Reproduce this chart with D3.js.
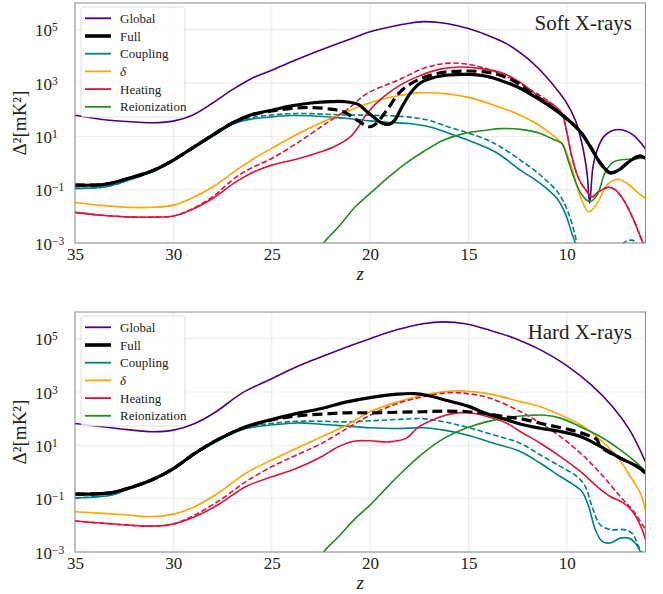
<!DOCTYPE html>
<html>
<head>
<meta charset="utf-8">
<script src="https://cdnjs.cloudflare.com/ajax/libs/d3/7.8.5/d3.min.js"></script>
<style>
body { margin: 0; background: #fff; }
text { font-family: "Liberation Serif", "DejaVu Serif", serif; fill: #222; }
</style>
</head>
<body>
<div id="container"></div>
<script>
// each series: [z, log10(Delta^2 / mK^2)]

// ---- soft X-rays ----
var softGlobal = [[35,1.79],[33.5,1.62],[32,1.54],[31,1.51],[30,1.57],[29,1.8],[28,2.25],[27,2.75],[26,3.18],[25,3.48],[24,3.8],[23,4.1],[22,4.38],[21,4.65],[20,4.92],[19,5.1],[18,5.24],[17.3,5.3],[16.5,5.27],[15.5,5.14],[15,5.04],[14,4.78],[13,4.45],[12,3.92],[11,3.2],[10.5,2.75],[10.05,2.3],[9.57,1.61],[9.23,0.73],[8.97,-0.39],[8.84,-1.51],[8.67,-0.14],[8.46,0.48],[8.13,0.98],[7.62,1.23],[7.11,1.23],[6.6,1.04],[6,0.53]]
var softFull = [[35,-0.83],[33.5,-0.8],[32.3,-0.58],[31,-0.27],[30,0.11],[29,0.58],[28,1.05],[27,1.5],[26,1.82],[25,1.98],[24,2.14],[23,2.25],[22,2.3],[21.3,2.3],[20.6,2.2],[20.2,1.95],[19.7,1.65],[19.4,1.5],[19.06,1.45],[18.75,1.6],[18.47,1.98],[17.96,2.61],[17.45,3.0],[16.8,3.2],[16,3.3],[15,3.32],[14,3.24],[13.38,3.1],[12.5,2.85],[11.35,2.36],[10.9,2.15],[10,1.66],[9.31,1.17],[8.8,0.61],[8.3,0.0],[7.79,-0.37],[7.37,-0.27],[6.94,-0.01],[6.43,0.23],[6.2,0.25],[6,0.17]]
var softFullDash = [[35,-0.83],[33.5,-0.8],[32.3,-0.58],[31,-0.27],[30,0.11],[29,0.58],[28,1.05],[27,1.5],[26,1.8],[25,1.95],[24,2.05],[23,2.08],[22,2.02],[21.35,1.92],[20.67,1.61],[20.2,1.4],[20.0,1.36],[19.73,1.45],[19.15,1.98],[18.47,2.67],[17.62,3.1],[16.43,3.38],[15.08,3.45],[14,3.4],[13.38,3.29],[12.5,3.0],[11.95,2.7],[11.35,2.4],[10.9,2.17],[10,1.66],[9.31,1.17],[8.8,0.61],[8.3,0.0],[7.79,-0.37],[7.37,-0.27],[6.94,-0.01],[6.43,0.23],[6.2,0.25],[6,0.17]]
var softCoupling = [[35,-0.95],[33.5,-0.9],[32.3,-0.65],[31,-0.3],[30,0.08],[29,0.55],[28,1.0],[27,1.45],[26,1.65],[25,1.73],[24,1.78],[23,1.77],[22,1.72],[21,1.66],[20,1.58],[19,1.52],[18,1.48],[17,1.36],[16,1.12],[15,0.85],[14,0.55],[13.38,0.3],[12.36,-0.27],[11.35,-0.76],[10.5,-1.33],[10.08,-1.89],[9.74,-2.64],[9.57,-3],[9.4,-3.5]]
var softCouplingDash = [[35,-0.95],[33.5,-0.9],[32.3,-0.65],[31,-0.3],[30,0.08],[29,0.55],[28,1.0],[27,1.45],[26,1.7],[25,1.8],[24,1.85],[23,1.85],[22,1.82],[21,1.8],[20,1.79],[19,1.77],[18,1.72],[17,1.6],[16,1.35],[15,1.12],[14,0.85],[13.38,0.61],[12.36,0.11],[11.35,-0.45],[10.42,-1.14],[9.91,-1.89],[9.48,-3],[9.3,-3.5],[7.5,-3.5],[7.2,-3.05],[6.85,-2.9],[6.55,-2.93],[6.3,-3.2],[6,-3.5]]
var softDelta = [[35,-1.48],[33.5,-1.6],[32,-1.67],[31,-1.66],[30,-1.58],[29.1,-1.33],[28,-0.9],[26.8,-0.27],[25.9,0.17],[25,0.55],[23.8,1.04],[22.5,1.51],[21.2,1.92],[20,2.26],[18.6,2.52],[17.3,2.64],[16.2,2.6],[15,2.46],[13.7,2.17],[12.4,1.8],[11.6,1.5],[10.84,1.11],[10.25,0.73],[9.82,-0.01],[9.31,-1.27],[8.89,-1.83],[8.46,-1.51],[7.96,-0.83],[7.45,-0.61],[6.94,-0.76],[6.43,-1.08],[6,-1.33]]
var softHeating = [[35,-1.85],[33.5,-1.97],[32,-2.03],[31,-2.03],[30,-1.99],[29.1,-1.76],[28,-1.33],[26.8,-0.7],[25.9,-0.33],[25,-0.08],[23.6,0.17],[22.5,0.42],[21.86,0.6],[21.0,0.98],[20.6,1.35],[20.16,1.86],[19.32,2.48],[18.47,2.92],[17.62,3.23],[16.43,3.52],[15.5,3.6],[14.5,3.55],[13.38,3.4],[12.4,3.04],[11.35,2.45],[10.67,2.17],[10.25,1.86],[9.99,1.11],[9.74,0.23],[9.4,-0.58],[8.97,-1.08],[8.72,-1.27],[8.39,-1.08],[7.87,-0.91],[7.53,-1.01],[7.11,-1.39],[6.6,-2.14],[6.26,-2.76],[6,-3.2]]
var softHeatingDash = [[35,-1.85],[33.5,-1.97],[32,-2.03],[31,-2.03],[30,-1.99],[29.1,-1.74],[28,-1.26],[26.8,-0.52],[25.9,-0.14],[25,0.17],[23.6,0.8],[22.5,1.35],[21.86,1.67],[21.2,1.98],[20.16,2.6],[18.6,3.1],[17.3,3.54],[16.25,3.73],[15.2,3.72],[14.1,3.54],[13,3.23],[11.95,2.79],[10.88,2.29],[10.5,2.0],[10.25,1.86],[9.99,1.11],[9.74,0.23],[9.4,-0.58],[8.97,-1.08],[8.72,-1.27],[8.39,-1.08],[7.87,-0.91],[7.53,-1.01],[7.11,-1.39],[6.6,-2.14],[6.26,-2.76],[6,-3.2]]
var softReion = [[22.6,-3.4],[22.36,-3],[21.6,-2.39],[20.75,-1.64],[20,-1.14],[19.05,-0.52],[18.2,-0.02],[17.3,0.42],[16.25,0.86],[15.2,1.11],[14.1,1.23],[13.38,1.29],[12.36,1.26],[11.35,1.11],[10.67,0.88],[10.25,0.73],[9.99,0.23],[9.65,-0.52],[9.23,-1.2],[8.84,-1.45],[8.46,-1.2],[8.04,-0.33],[7.62,0.04],[7.11,0.13],[6.6,0.15],[6,0.2]]

// ---- hard X-rays ----
var hardGlobal = [[35,1.82],[32.34,1.59],[31.05,1.51],[30,1.57],[28.91,1.82],[27.83,2.26],[26.55,2.94],[25,3.5],[23.76,3.94],[22.47,4.32],[21.18,4.69],[20,5.0],[18.6,5.34],[17.32,5.56],[16.24,5.63],[15.17,5.56],[13.88,5.31],[12.6,5.0],[11.31,4.57],[10.02,4.0],[8.73,3.25],[7.66,2.44],[6.8,1.57],[6,0.38]]
var hardFull = [[35,-0.83],[33.2,-0.78],[32.34,-0.62],[31.05,-0.28],[30,0.13],[28.91,0.7],[27.62,1.26],[26.33,1.69],[25,1.97],[23.76,2.19],[22.47,2.38],[21.18,2.63],[20,2.79],[18.6,2.92],[17.75,2.94],[16.89,2.84],[16.03,2.67],[15.02,2.47],[14.1,2.19],[13.03,1.95],[12.37,1.8],[11.35,1.64],[10.33,1.52],[9.31,1.33],[8.3,0.96],[7.28,0.52],[6.43,0.21],[6,-0.04]]
var hardFullDash = [[35,-0.83],[33.2,-0.78],[32.34,-0.62],[31.05,-0.28],[30,0.13],[28.91,0.7],[27.62,1.26],[26.33,1.69],[25,1.95],[23.76,2.1],[22.47,2.17],[21.18,2.22],[20,2.22],[18.6,2.24],[17.32,2.26],[16.24,2.28],[15.02,2.26],[14.1,2.19],[13.03,2.06],[12.37,2.0],[11.0,1.77],[9.82,1.58],[8.97,1.39],[8.47,1.21],[8.3,0.96],[7.28,0.52],[6.43,0.21],[6,-0.04]]
var hardCoupling = [[35,-0.97],[33.2,-0.87],[32.34,-0.66],[31.05,-0.3],[30,0.1],[28.91,0.67],[27.62,1.22],[26.33,1.63],[25,1.76],[23.76,1.84],[22.47,1.79],[21.18,1.72],[20,1.66],[18.6,1.63],[17.32,1.66],[16.24,1.57],[15.02,1.38],[13.67,1.07],[12.37,0.77],[11.35,0.33],[10.33,-0.17],[9.65,-0.48],[9.23,-0.73],[8.89,-1.29],[8.55,-2.16],[8.21,-2.6],[7.79,-2.66],[7.28,-2.48],[6.86,-2.48],[6.52,-2.66],[6.26,-3],[6.1,-3.5]]
var hardCouplingDash = [[35,-0.97],[33.2,-0.87],[32.34,-0.66],[31.05,-0.3],[30,0.1],[28.91,0.67],[27.62,1.22],[26.33,1.66],[25,1.82],[23.76,1.9],[22.47,1.9],[21.18,1.88],[20,1.92],[18.6,1.97],[17.32,2.0],[16.24,1.88],[15.02,1.67],[13.67,1.38],[12.37,1.08],[11.35,0.64],[10.33,0.21],[9.48,-0.17],[9.06,-0.54],[8.72,-1.29],[8.3,-1.98],[7.79,-2.16],[7.11,-2.16],[6.69,-2.29],[6.35,-2.79],[6.2,-3],[6.05,-3.5]]
var hardDelta = [[35,-1.49],[32.34,-1.61],[31.2,-1.68],[30,-1.58],[28.91,-1.3],[27.62,-0.74],[26.33,-0.05],[25,0.45],[23.76,0.88],[22.47,1.32],[21.18,1.76],[20,2.26],[18.6,2.63],[17.32,2.88],[16.03,3.03],[15.02,3.03],[13.88,2.92],[12.37,2.64],[11.35,2.45],[10.33,2.14],[9.31,1.77],[8.3,1.21],[7.45,0.58],[6.77,-0.17],[6.26,-0.79],[6,-1.42]]
var hardHeating = [[35,-1.84],[32.34,-1.99],[31.05,-2.03],[30,-1.95],[28.91,-1.68],[27.62,-1.18],[26.33,-0.55],[25,-0.18],[23.76,0.13],[22.47,0.57],[21.61,0.95],[20.75,1.16],[20,1.17],[19.03,1.13],[18.18,1.26],[17.53,1.69],[16.67,2.0],[15.82,2.19],[15.02,2.22],[14.1,2.09],[13.03,1.82],[12.37,1.52],[11.35,1.08],[10.33,0.58],[9.31,0.02],[8.47,-0.54],[7.79,-0.92],[7.11,-1.17],[6.6,-1.54],[6.17,-2.16],[6,-2.54]]
var hardHeatingDash = [[35,-1.84],[32.34,-1.99],[31.05,-2.03],[30,-1.95],[28.91,-1.61],[27.62,-1.05],[26.33,-0.37],[25,0.2],[23.76,0.63],[22.47,1.07],[21.18,1.63],[20,2.13],[18.6,2.57],[17.32,2.82],[16.03,2.97],[15.02,2.94],[13.88,2.76],[12.37,2.27],[11.35,1.83],[10.33,1.33],[9.31,0.71],[8.3,-0.04],[7.28,-0.92],[6.6,-1.48],[6,-2.16]]
var hardReion = [[22.6,-3.4],[22.36,-3],[21.61,-2.43],[20.75,-1.74],[20,-1.24],[19.03,-0.49],[18.18,0.13],[17.32,0.7],[16.24,1.26],[15.17,1.63],[14.1,1.88],[13.03,2.04],[11.95,2.12],[11.09,2.13],[10.33,2.02],[9.31,1.7],[8.3,1.33],[7.28,0.83],[6.43,0.33],[6,0.02]]

var zTicks = [35, 30, 25, 20, 15, 10]
var yExps = [-3, -1, 1, 3, 5]
var legendNames = ["Global", "Full", "Coupling", "δ", "Heating", "Reionization"]
var colors = ["#4b0082", "#000000", "#008080", "#ffa500", "#dc143c", "#228b22"]
var widths = [1.6, 3.2, 1.6, 1.6, 1.6, 1.6]

var W = 663, H = 594
var left = 75, plotW = 570.5, plotH = 240

var svg = d3.select("#container").append("svg")
    .attr("width", W)
    .attr("height", H)

var x = d3.scaleLinear().domain([35, 6]).range([0, plotW])
var y = d3.scaleLog().domain([1e-3, 1e6]).range([plotH, 0])

var line = d3.line()
    .x(function(d) { return x(d[0]) })
    .y(function(d) { return y(Math.pow(10, d[1])) })
    .curve(d3.curveCatmullRom.alpha(0.5))

function drawPanel(top, id, title, series) {
    var g = svg.append("g").attr("transform", "translate(" + left + "," + top + ")")

    g.append("clipPath").attr("id", id)
      .append("rect").attr("width", plotW).attr("height", plotH)

    // grid
    g.selectAll(".vgrid").data(zTicks).enter().append("line")
        .attr("x1", function(d) { return x(d) }).attr("x2", function(d) { return x(d) })
        .attr("y1", 0).attr("y2", plotH)
        .attr("stroke", "#e3e3e3").attr("stroke-width", 0.8)
    g.selectAll(".hgrid").data(yExps).enter().append("line")
        .attr("x1", 0).attr("x2", plotW)
        .attr("y1", function(d) { return y(Math.pow(10, d)) }).attr("y2", function(d) { return y(Math.pow(10, d)) })
        .attr("stroke", "#e3e3e3").attr("stroke-width", 0.8)

    var lines = g.append("g").attr("clip-path", "url(#" + id + ")")
    series.forEach(function(s) {
        lines.append("path")
            .datum(s.data)
            .attr("d", line)
            .attr("fill", "none")
            .attr("stroke", s.color)
            .attr("stroke-width", s.width)
            .attr("stroke-dasharray", s.dash || null)
            .attr("stroke-linejoin", "round")
    })

    // axes
    var gx = g.append("g").attr("transform", "translate(0," + plotH + ")")
        .call(d3.axisBottom(x).tickValues(zTicks).tickSize(0).tickPadding(5))
    gx.select(".domain").remove()
    gx.selectAll("text").attr("font-size", "17px").attr("font-family", "Liberation Serif")

    var gy = g.append("g")
        .call(d3.axisLeft(y).tickValues(yExps.map(function(e) { return Math.pow(10, e) })).tickSize(0))
    gy.select(".domain").remove()
    gy.selectAll(".tick text").each(function(d) {
        var t = d3.select(this)
        var e = Math.round(Math.log10(d))
        t.text(null)
            .attr("text-anchor", "start")
            .attr("x", -40)
            .attr("dy", "0.36em")
            .attr("font-size", "17px")
            .attr("font-family", "Liberation Serif")
        t.append("tspan").text("10")
        t.append("tspan").attr("dy", "-5").attr("font-size", "11.5px").text(e < 0 ? "\u2212" + (-e) : String(e))
    })

    g.append("rect")
        .attr("width", plotW).attr("height", plotH)
        .attr("fill", "none").attr("stroke", "#8a8a8a").attr("stroke-width", 1)

    // labels
    g.append("text")
        .attr("x", x(20.5)).attr("y", plotH + 37)
        .attr("text-anchor", "middle")
        .attr("font-size", "19px").attr("font-style", "italic")
        .text("z")
    g.append("text")
        .attr("transform", "translate(-49," + (plotH / 2) + ") rotate(-90)")
        .attr("text-anchor", "middle")
        .attr("font-size", "19px")
        .text("Δ²[mK²]")
    g.append("text")
        .attr("x", 557).attr("y", 26.5)
        .attr("text-anchor", "end")
        .attr("font-size", "21px")
        .text(title)

    // legend
    var lg = g.append("g").attr("transform", "translate(6,4)")
    lg.append("rect")
        .attr("width", 104).attr("height", 110).attr("rx", 3)
        .attr("fill", "#fff").attr("fill-opacity", 0.8)
        .attr("stroke", "#d6d6d6").attr("stroke-width", 0.8)
    legendNames.forEach(function(name, i) {
        var ly = 11.3 + i * 17.7
        lg.append("line")
            .attr("x1", 4).attr("x2", 30).attr("y1", ly).attr("y2", ly)
            .attr("stroke", colors[i]).attr("stroke-width", i == 1 ? 3.6 : 1.8)
        lg.append("text")
            .attr("x", 39).attr("y", ly).attr("dy", "0.35em")
            .attr("font-size", "13px")
            .attr("font-style", name == "δ" ? "italic" : null)
            .text(name)
    })
}

function seriesFor(gl, full, fullD, coup, coupD, delta, heat, heatD, reion) {
    return [
        {data: gl, color: colors[0], width: widths[0]},
        {data: coup, color: colors[2], width: widths[2]},
        {data: coupD, color: colors[2], width: widths[2], dash: "5.5,2.6"},
        {data: delta, color: colors[3], width: widths[3]},
        {data: heat, color: colors[4], width: widths[4]},
        {data: heatD, color: colors[4], width: widths[4], dash: "5.5,2.6"},
        {data: reion, color: colors[5], width: widths[5]},
        {data: full, color: colors[1], width: widths[1]},
        {data: fullD, color: colors[1], width: widths[1], dash: "10,5"}
    ]
}

drawPanel(3, "clipSoft", "Soft X-rays",
    seriesFor(softGlobal, softFull, softFullDash, softCoupling, softCouplingDash, softDelta, softHeating, softHeatingDash, softReion))
drawPanel(312, "clipHard", "Hard X-rays",
    seriesFor(hardGlobal, hardFull, hardFullDash, hardCoupling, hardCouplingDash, hardDelta, hardHeating, hardHeatingDash, hardReion))
</script>
</body>
</html>
